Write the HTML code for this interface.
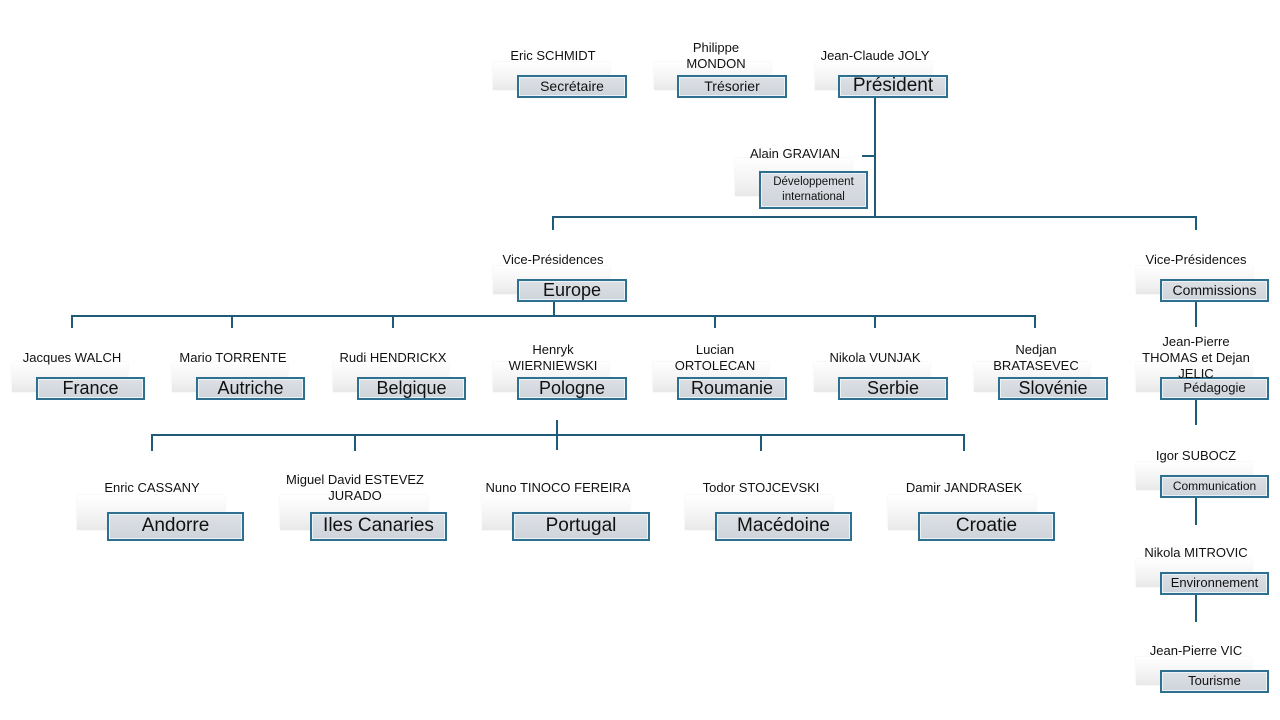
<!DOCTYPE html>
<html><head><meta charset="utf-8"><style>
body{margin:0;width:1280px;height:720px;background:#fff;position:relative;overflow:hidden;font-family:"Liberation Sans",sans-serif;color:#111}
.bg{position:absolute;background:linear-gradient(#fff,#f1f1f1 70%,#e8e8e8);box-shadow:0 0 2px rgba(0,0,0,.08)}
.b{position:absolute;box-sizing:border-box;border:2px solid #2f6f90;background:linear-gradient(#dde1e6,#cfd4db);display:flex;align-items:center;justify-content:center;text-align:center;line-height:1.1;box-shadow:inset 0 0 0 1px #eaf3f8}
.n{position:absolute;text-align:center;font-size:13px;line-height:16px;transform:translate(-50%,2px);white-space:nowrap}
.l{position:absolute;background:#1f5a78}
</style></head><body>
<div class="l" style="left:874px;top:97px;width:2px;height:121px"></div>
<div class="l" style="left:862px;top:155px;width:13px;height:2px"></div>
<div class="l" style="left:552px;top:216px;width:645px;height:2px"></div>
<div class="l" style="left:552px;top:216px;width:2px;height:14px"></div>
<div class="l" style="left:1195px;top:216px;width:2px;height:14px"></div>
<div class="l" style="left:553px;top:301px;width:2px;height:15px"></div>
<div class="l" style="left:71px;top:315px;width:965px;height:2px"></div>
<div class="l" style="left:71px;top:315px;width:2px;height:13px"></div>
<div class="l" style="left:231px;top:315px;width:2px;height:13px"></div>
<div class="l" style="left:392px;top:315px;width:2px;height:13px"></div>
<div class="l" style="left:714px;top:315px;width:2px;height:13px"></div>
<div class="l" style="left:874px;top:315px;width:2px;height:13px"></div>
<div class="l" style="left:1034px;top:315px;width:2px;height:13px"></div>
<div class="l" style="left:556px;top:420px;width:2px;height:30px"></div>
<div class="l" style="left:151px;top:434px;width:814px;height:2px"></div>
<div class="l" style="left:151px;top:434px;width:2px;height:17px"></div>
<div class="l" style="left:354px;top:434px;width:2px;height:17px"></div>
<div class="l" style="left:760px;top:434px;width:2px;height:17px"></div>
<div class="l" style="left:963px;top:434px;width:2px;height:17px"></div>
<div class="l" style="left:1195px;top:301px;width:2px;height:26px"></div>
<div class="l" style="left:1195px;top:399px;width:2px;height:26px"></div>
<div class="l" style="left:1195px;top:497px;width:2px;height:28px"></div>
<div class="l" style="left:1195px;top:594px;width:2px;height:28px"></div>

<div class="bg" style="left:493px;top:62px;width:117px;height:28px"></div>
<div class="bg" style="left:654px;top:62px;width:117px;height:28px"></div>
<div class="bg" style="left:815px;top:62px;width:117px;height:28px"></div>
<div class="bg" style="left:735px;top:158px;width:117px;height:38px"></div>
<div class="bg" style="left:493px;top:266px;width:117px;height:28px"></div>
<div class="bg" style="left:1136px;top:266px;width:117px;height:28px"></div>
<div class="bg" style="left:12px;top:362px;width:116px;height:30px"></div>
<div class="bg" style="left:172px;top:362px;width:116px;height:30px"></div>
<div class="bg" style="left:333px;top:362px;width:116px;height:30px"></div>
<div class="bg" style="left:493px;top:362px;width:116px;height:30px"></div>
<div class="bg" style="left:653px;top:362px;width:116px;height:30px"></div>
<div class="bg" style="left:814px;top:362px;width:116px;height:30px"></div>
<div class="bg" style="left:974px;top:362px;width:116px;height:30px"></div>
<div class="bg" style="left:1136px;top:362px;width:116px;height:30px"></div>
<div class="bg" style="left:1136px;top:462px;width:116px;height:28px"></div>
<div class="bg" style="left:1136px;top:559px;width:116px;height:28px"></div>
<div class="bg" style="left:1136px;top:657px;width:116px;height:28px"></div>
<div class="bg" style="left:77px;top:495px;width:148px;height:35px"></div>
<div class="bg" style="left:280px;top:495px;width:148px;height:35px"></div>
<div class="bg" style="left:482px;top:495px;width:148px;height:35px"></div>
<div class="bg" style="left:685px;top:495px;width:148px;height:35px"></div>
<div class="bg" style="left:888px;top:495px;width:148px;height:35px"></div>

<div class="b" style="left:517px;top:75px;width:110px;height:23px;font-size:14px">Secrétaire</div>
<div class="b" style="left:677px;top:75px;width:110px;height:23px;font-size:14px">Trésorier</div>
<div class="b" style="left:838px;top:75px;width:110px;height:23px;font-size:19px">Président</div>
<div class="b" style="left:759px;top:171px;width:109px;height:38px;font-size:11.5px;line-height:15px">Développement<br>international</div>
<div class="b" style="left:517px;top:279px;width:110px;height:23px;font-size:18px">Europe</div>
<div class="b" style="left:1160px;top:279px;width:109px;height:23px;font-size:14px">Commissions</div>
<div class="b" style="left:36px;top:377px;width:109px;height:23px;font-size:18px">France</div>
<div class="b" style="left:196px;top:377px;width:109px;height:23px;font-size:18px">Autriche</div>
<div class="b" style="left:357px;top:377px;width:109px;height:23px;font-size:18px">Belgique</div>
<div class="b" style="left:517px;top:377px;width:110px;height:23px;font-size:18px">Pologne</div>
<div class="b" style="left:677px;top:377px;width:110px;height:23px;font-size:18px">Roumanie</div>
<div class="b" style="left:838px;top:377px;width:110px;height:23px;font-size:18px">Serbie</div>
<div class="b" style="left:998px;top:377px;width:110px;height:23px;font-size:18px">Slovénie</div>
<div class="b" style="left:1160px;top:377px;width:109px;height:23px;font-size:13px">Pédagogie</div>
<div class="b" style="left:1160px;top:475px;width:109px;height:23px;font-size:12px">Communication</div>
<div class="b" style="left:1160px;top:572px;width:109px;height:23px;font-size:13px">Environnement</div>
<div class="b" style="left:1160px;top:670px;width:109px;height:23px;font-size:13px">Tourisme</div>
<div class="b" style="left:107px;top:512px;width:137px;height:29px;font-size:19px">Andorre</div>
<div class="b" style="left:310px;top:512px;width:137px;height:29px;font-size:19px">Iles Canaries</div>
<div class="b" style="left:512px;top:512px;width:138px;height:29px;font-size:19px">Portugal</div>
<div class="b" style="left:715px;top:512px;width:137px;height:29px;font-size:19px">Macédoine</div>
<div class="b" style="left:918px;top:512px;width:137px;height:29px;font-size:19px">Croatie</div>

<div class="n" style="left:553px;top:46px">Eric SCHMIDT</div>
<div class="n" style="left:716px;top:38px">Philippe<br>MONDON</div>
<div class="n" style="left:875px;top:46px">Jean-Claude JOLY</div>
<div class="n" style="left:795px;top:144px">Alain GRAVIAN</div>
<div class="n" style="left:553px;top:250px">Vice-Présidences</div>
<div class="n" style="left:1196px;top:250px">Vice-Présidences</div>
<div class="n" style="left:72px;top:348px">Jacques WALCH</div>
<div class="n" style="left:233px;top:348px">Mario TORRENTE</div>
<div class="n" style="left:393px;top:348px">Rudi HENDRICKX</div>
<div class="n" style="left:553px;top:340px">Henryk<br>WIERNIEWSKI</div>
<div class="n" style="left:715px;top:340px">Lucian<br>ORTOLECAN</div>
<div class="n" style="left:875px;top:348px">Nikola VUNJAK</div>
<div class="n" style="left:1036px;top:340px">Nedjan<br>BRATASEVEC</div>
<div class="n" style="left:1196px;top:332px">Jean-Pierre<br>THOMAS et Dejan<br>JELIC</div>
<div class="n" style="left:1196px;top:446px">Igor SUBOCZ</div>
<div class="n" style="left:1196px;top:543px">Nikola MITROVIC</div>
<div class="n" style="left:1196px;top:641px">Jean-Pierre VIC</div>
<div class="n" style="left:152px;top:478px">Enric CASSANY</div>
<div class="n" style="left:355px;top:470px">Miguel David ESTEVEZ<br>JURADO</div>
<div class="n" style="left:558px;top:478px">Nuno TINOCO FEREIRA</div>
<div class="n" style="left:761px;top:478px">Todor STOJCEVSKI</div>
<div class="n" style="left:964px;top:478px">Damir JANDRASEK</div>
</body></html>
